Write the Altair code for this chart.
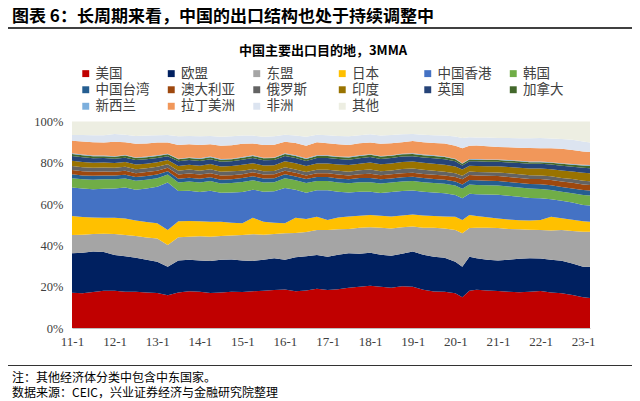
import altair as alt
import pandas as pd

DATES = [
    "2011-01-01", "2011-04-01", "2011-07-01", "2011-10-01",
    "2012-01-01", "2012-04-01", "2012-07-01", "2012-10-01",
    "2013-01-01", "2013-04-01", "2013-07-01", "2013-10-01",
    "2014-01-01", "2014-04-01", "2014-07-01", "2014-10-01",
    "2015-01-01", "2015-04-01", "2015-07-01", "2015-10-01",
    "2016-01-01", "2016-04-01", "2016-07-01", "2016-10-01",
    "2017-01-01", "2017-04-01", "2017-07-01", "2017-10-01",
    "2018-01-01", "2018-04-01", "2018-07-01", "2018-10-01",
    "2019-01-01", "2019-04-01", "2019-07-01", "2019-10-01",
    "2020-01-01", "2020-03-01", "2020-05-01", "2020-07-01", "2020-10-01",
    "2021-01-01", "2021-04-01", "2021-07-01", "2021-10-01",
    "2022-01-01", "2022-04-01", "2022-07-01", "2022-10-01",
    "2023-01-01", "2023-03-01",
]

US = [17.1, 16.8, 17.4, 18.0, 18.0, 17.5, 17.6, 17.2, 17.0, 15.8, 17.2, 17.8,
      17.6, 17.0, 17.2, 17.6, 17.4, 17.8, 18.0, 18.4, 18.7, 17.8, 18.2, 19.0,
      18.4, 18.8, 19.5, 20.0, 20.5, 20.0, 19.5, 20.2, 20.0, 18.5, 17.7, 17.5,
      16.8, 14.9, 18.0, 18.5, 18.2, 17.9, 17.5, 17.3, 17.6, 17.9, 17.2, 16.8,
      16.0, 14.9, 14.5]
EU = [19.1, 19.7, 19.6, 18.8, 17.4, 17.3, 16.4, 15.8, 15.1, 13.9, 15.5, 15.2,
      15.1, 15.5, 15.8, 15.6, 15.3, 14.7, 15.0, 15.4, 14.3, 16.5, 16.6, 16.4,
      16.1, 16.7, 16.7, 16.0, 16.0, 15.5, 15.5, 15.8, 17.0, 17.0, 16.8, 16.5,
      15.3, 14.8, 16.5, 15.3, 14.8, 14.8, 15.5, 16.2, 16.2, 15.7, 15.8, 15.8,
      15.2, 14.8, 15.2]
ASEAN = [8.8, 8.7, 8.5, 8.8, 10.1, 10.2, 10.5, 10.8, 11.3, 10.5, 11.3, 11.2,
         11.7, 11.7, 11.6, 11.6, 12.3, 12.9, 12.2, 11.7, 12.9, 11.7, 11.7, 12.1,
         13.0, 12.3, 11.8, 12.5, 12.3, 13.0, 13.2, 12.8, 12.2, 13.1, 14.0, 14.2,
         15.4, 16.2, 13.9, 14.8, 15.5, 15.7, 15.0, 14.3, 13.8, 13.9, 14.2, 14.8,
         15.8, 16.9, 16.9]
JP = [9.2, 8.6, 8.0, 7.8, 7.9, 8.0, 7.5, 7.5, 7.3, 7.3, 7.7, 7.6,
      7.3, 7.3, 6.9, 6.2, 5.7, 8.0, 6.3, 5.5, 4.8, 7.4, 6.3, 6.4,
      4.8, 5.7, 6.0, 5.9, 5.9, 5.8, 5.8, 5.7, 5.8, 5.9, 5.7, 5.8,
      6.4, 6.4, 6.3, 5.6, 5.1, 4.6, 4.6, 4.4, 4.4, 4.8, 6.7, 5.8,
      5.4, 5.1, 4.9]
HK = [13.8, 13.7, 13.7, 14.0, 14.2, 15.0, 15.0, 16.2, 17.7, 23.0, 14.6, 14.7,
      14.1, 15.0, 14.0, 14.6, 15.1, 13.6, 14.5, 15.2, 17.1, 13.6, 12.7, 12.8,
      14.4, 12.5, 11.6, 11.6, 11.3, 11.1, 11.8, 11.9, 11.6, 11.5, 11.4, 11.2,
      10.5, 10.5, 10.3, 10.6, 11.0, 11.5, 11.4, 11.3, 11.0, 10.5, 8.5, 8.4,
      8.4, 7.9, 7.8]
KR = [4.5, 4.5, 4.6, 4.6, 4.4, 4.4, 4.3, 4.3, 4.1, 3.8, 4.2, 4.5,
      4.7, 4.7, 4.5, 4.6, 4.9, 4.6, 4.5, 4.4, 4.7, 4.5, 4.7, 4.5,
      4.5, 4.5, 4.5, 4.6, 4.6, 4.6, 4.6, 4.6, 4.6, 4.6, 4.6, 4.6,
      4.6, 4.6, 4.5, 4.5, 4.5, 4.5, 4.5, 4.5, 4.5, 4.5, 4.4, 4.4,
      4.4, 4.8, 4.9]
TW = [1.9, 1.9, 1.9, 1.8, 1.8, 1.8, 1.8, 1.8, 1.8, 1.6, 1.8, 1.8,
      1.8, 1.8, 1.8, 1.8, 1.9, 1.9, 1.9, 1.9, 1.9, 1.9, 1.9, 1.9,
      1.9, 1.9, 1.9, 2.0, 2.0, 2.0, 2.0, 2.0, 2.0, 2.0, 2.0, 2.0,
      2.0, 2.1, 2.2, 2.2, 2.2, 2.2, 2.2, 2.2, 2.2, 2.3, 2.3, 2.3,
      2.4, 2.4, 2.4]
AU = [2.1, 2.0, 2.0, 2.0, 1.9, 2.0, 1.9, 1.9, 1.9, 1.7, 2.0, 2.0,
      2.0, 2.0, 2.0, 2.0, 1.9, 1.9, 1.9, 1.9, 1.8, 1.8, 1.8, 1.8,
      1.8, 1.9, 1.9, 1.9, 2.1, 2.0, 2.0, 2.0, 2.0, 2.0, 2.0, 2.0,
      2.1, 2.5, 2.4, 2.4, 2.4, 2.4, 2.4, 2.4, 2.5, 2.5, 2.6, 2.6,
      2.7, 2.7, 2.7]
RU = [2.0, 2.0, 1.9, 1.9, 1.9, 1.9, 1.9, 1.9, 1.9, 1.7, 1.9, 1.9,
      1.9, 1.9, 1.9, 1.9, 1.7, 1.6, 1.6, 1.6, 1.6, 1.6, 1.6, 1.7,
      1.7, 1.8, 1.8, 1.9, 2.0, 1.9, 1.9, 2.0, 2.0, 2.0, 2.0, 1.9,
      1.9, 1.7, 1.7, 1.7, 1.7, 1.7, 1.8, 1.8, 1.8, 1.8, 1.8, 1.8,
      1.8, 1.8, 1.8]
IN = [2.5, 2.5, 2.4, 2.4, 2.3, 2.3, 2.3, 2.2, 2.2, 2.0, 2.3, 2.4,
      2.4, 2.5, 2.5, 2.5, 2.8, 2.8, 2.8, 2.8, 3.0, 3.0, 2.9, 3.1,
      3.1, 3.1, 3.2, 3.2, 3.4, 3.4, 3.4, 3.4, 3.4, 3.4, 3.4, 3.4,
      3.2, 3.0, 2.8, 2.9, 2.9, 3.0, 3.1, 3.2, 3.2, 3.3, 3.4, 3.6,
      3.7, 3.9, 3.9]
UK = [2.3, 2.3, 2.2, 2.2, 2.1, 2.1, 2.1, 2.1, 2.0, 1.9, 2.2, 2.2,
      2.3, 2.3, 2.3, 2.3, 2.5, 2.5, 2.5, 2.5, 2.5, 2.5, 2.5, 2.6,
      2.6, 2.6, 2.6, 2.6, 2.7, 2.6, 2.6, 2.6, 2.6, 2.6, 2.6, 2.6,
      2.5, 2.0, 2.2, 2.2, 2.2, 2.2, 2.2, 2.3, 2.3, 2.3, 2.3, 2.3,
      2.3, 2.4, 2.4]
CA = [1.0, 1.0, 1.0, 0.9, 0.9, 1.0, 1.0, 1.0, 1.0, 0.9, 1.0, 1.0,
      1.0, 1.0, 1.0, 1.0, 1.0, 1.0, 1.0, 1.0, 1.0, 1.0, 1.0, 1.0,
      1.0, 1.0, 1.1, 1.1, 1.1, 1.1, 1.1, 1.1, 1.1, 1.1, 1.1, 1.1,
      1.0, 0.8, 0.8, 0.8, 0.8, 0.8, 0.8, 0.8, 0.8, 0.8, 0.8, 0.9,
      1.0, 1.1, 1.2]
NZ = [0.3, 0.3, 0.3, 0.3, 0.3, 0.3, 0.3, 0.3, 0.3, 0.3, 0.3, 0.3,
      0.3, 0.3, 0.3, 0.3, 0.3, 0.3, 0.3, 0.3, 0.3, 0.3, 0.3, 0.3,
      0.3, 0.3, 0.3, 0.3, 0.3, 0.3, 0.3, 0.3, 0.3, 0.3, 0.3, 0.3,
      0.3, 0.3, 0.3, 0.3, 0.3, 0.3, 0.3, 0.3, 0.3, 0.3, 0.3, 0.3,
      0.3, 0.3, 0.3]
LATAM = [6.1, 6.3, 6.5, 6.3, 7.0, 6.2, 6.6, 6.3, 6.2, 5.4, 6.6, 6.4,
         6.4, 6.0, 6.4, 6.5, 6.4, 5.8, 6.1, 6.2, 5.6, 6.0, 6.0, 6.4,
         5.9, 5.9, 5.7, 5.9, 5.6, 5.9, 5.8, 5.6, 5.9, 6.0, 6.0, 6.3,
         6.2, 7.2, 6.3, 6.6, 6.4, 6.0, 6.2, 6.3, 6.6, 6.5, 6.7, 7.0,
         6.8, 6.5, 6.3]
AFRICA = [2.8, 3.2, 3.3, 3.6, 3.8, 3.6, 3.8, 3.9, 3.6, 3.7, 4.2, 4.0,
          4.2, 4.0, 4.4, 4.3, 4.0, 3.8, 4.0, 4.0, 3.4, 3.6, 4.4, 3.6,
          3.8, 4.0, 4.2, 3.9, 4.0, 4.0, 4.0, 3.8, 3.5, 3.6, 3.8, 3.8,
          4.5, 5.0, 4.2, 3.9, 4.2, 4.4, 4.5, 4.6, 4.7, 4.9, 4.8, 4.7,
          5.0, 4.8, 4.6]
OTHER = [6.5, 6.5, 6.7, 6.6, 6.0, 6.4, 7.0, 6.8, 6.6, 6.5, 7.2, 7.0,
         7.2, 7.0, 7.4, 7.2, 6.8, 6.8, 7.4, 7.2, 6.4, 6.8, 7.4, 6.4,
         6.7, 7.0, 7.2, 6.6, 6.2, 6.8, 6.5, 6.2, 6.0, 6.4, 6.6, 6.8,
         7.3, 8.0, 7.6, 7.7, 7.8, 8.0, 8.0, 8.1, 8.1, 8.0, 8.2, 8.5,
         8.8, 9.7, 10.2]

NAMES = ["美国", "欧盟", "东盟", "日本", "中国香港", "韩国",
         "中国台湾", "澳大利亚", "俄罗斯", "印度", "英国", "加拿大",
         "新西兰", "拉丁美洲", "非洲", "其他"]
SERIES = [US, EU, ASEAN, JP, HK, KR, TW, AU, RU, IN, UK, CA, NZ, LATAM, AFRICA, OTHER]
COLORS = ["#C00000", "#002060", "#A5A5A5", "#FFC000", "#4472C4", "#70AD47",
          "#255E91", "#9E480E", "#636363", "#997300", "#264478", "#43682B",
          "#7CAFDD", "#F1975A", "#DCE4F0", "#EDEEE2"]

TICK_YEARS = [2011, 2012, 2013, 2014, 2015, 2016, 2017, 2018, 2019, 2020, 2021, 2022, 2023]
Y_TICKS = [0, 0.2, 0.4, 0.6, 0.8, 1.0]

HEADER = "图表 6：长周期来看，中国的出口结构也处于持续调整中"
CHART_TITLE = "中国主要出口目的地，3MMA"
NOTE1 = "注：其他经济体分类中包含中东国家。"
NOTE2 = "数据来源：CEIC，兴业证券经济与金融研究院整理"

rows = []
for k, (name, vals) in enumerate(zip(NAMES, SERIES)):
    for d, v in zip(DATES, vals):
        rows.append({"date": d, "series": name, "value": v, "order": k})
df = pd.DataFrame(rows)

CJK = "Noto Sans CJK SC"
SERIF = "Liberation Serif"

area = alt.Chart(df).mark_area(interpolate="linear").encode(
    x=alt.X(
        "date:T",
        title=None,
        scale=alt.Scale(
            type="utc",
            nice=False,
            domain=[alt.DateTime(year=2011, month=1, date=1, utc=True),
                    alt.DateTime(year=2023, month=3, date=1, utc=True)],
        ),
        axis=alt.Axis(
            values=[alt.DateTime(year=y, month=1, date=1, utc=True) for y in TICK_YEARS],
            labelExpr="utcFormat(datum.value, '%y') + '-1'",
            labelFont=SERIF, labelFontSize=13, labelColor="#404040",
            labelPadding=7, ticks=False, domainColor="#BFBFBF",
            grid=False, labelFlush=False,
        ),
    ),
    y=alt.Y(
        "value:Q",
        stack="normalize",
        title=None,
        scale=alt.Scale(domain=[0, 1], nice=False),
        axis=alt.Axis(
            values=Y_TICKS, format=".0%",
            labelFont=SERIF, labelFontSize=12.5, labelColor="#404040",
            labelPadding=9, ticks=False, domainColor="#D9D9D9", grid=False,
        ),
    ),
    color=alt.Color(
        "series:N",
        scale=alt.Scale(domain=NAMES, range=COLORS),
        legend=alt.Legend(
            orient="none", legendX=7, legendY=-55, direction="horizontal",
            columns=6, title=None, symbolType="square", symbolSize=48,
            symbolStrokeWidth=0, symbolOpacity=1, labelFont=CJK,
            labelFontSize=13.5, labelColor="#404040", columnPadding=14.5,
            rowPadding=1.5, gridAlign="all", labelOffset=3, padding=0,
        ),
    ),
    order=alt.Order("order:Q", sort="ascending"),
)


def label(text, x, y, size, weight="normal", align="left"):
    return alt.Chart(pd.DataFrame({"t": [text]})).mark_text(
        align=align, baseline="middle", fontSize=size, fontWeight=weight,
        font=CJK, color="#000000",
    ).encode(text="t:N", x=alt.value(x), y=alt.value(y))


def hline(y, width, color):
    return alt.Chart(pd.DataFrame({"a": [0]})).mark_rule(
        color=color, strokeWidth=width
    ).encode(x=alt.value(-67), x2=alt.value(564), y=alt.value(y))


chart = alt.layer(
    area,
    label(HEADER, -60, -104.5, 17, "bold"),
    hline(-93.5, 1.5, "#000000"),
    label(CHART_TITLE, 251, -70.5, 13, "bold", "center"),
    hline(244, 1, "#333333"),
    label(NOTE1, -60, 256.5, 12),
    label(NOTE2, -60, 271.5, 12),
).properties(
    width=518,
    height=206.5,
    autosize=alt.AutoSizeParams(type="none"),
    padding={"left": 64, "top": 113.5, "right": 42, "bottom": 85},
).configure_view(stroke=None)

chart.save("out.html", embed_options={"renderer": "svg", "actions": False})
